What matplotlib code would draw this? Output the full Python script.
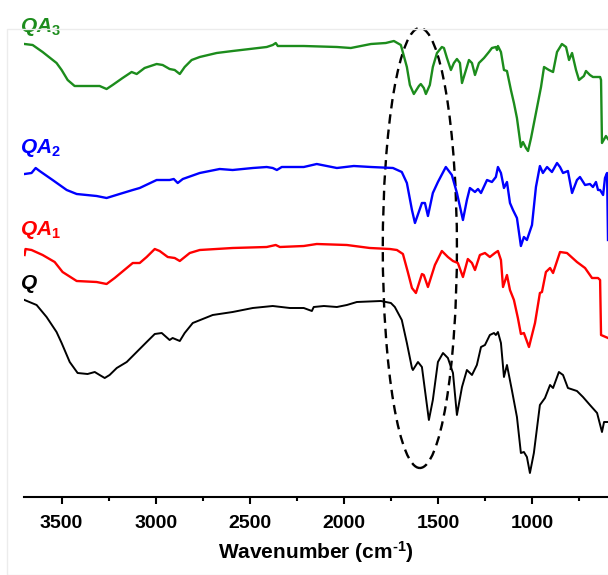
import matplotlib
matplotlib.use("Agg")
import matplotlib.pyplot as plt
from matplotlib.patches import Ellipse, Rectangle
from matplotlib.ticker import MultipleLocator

plt.rcParams['font.family'] = ['Liberation Sans', 'DejaVu Sans']
plt.rcParams['mathtext.fontset'] = 'custom'
plt.rcParams['mathtext.it'] = 'Liberation Sans:italic:bold'
plt.rcParams['mathtext.bf'] = 'Liberation Sans:bold'
plt.rcParams['mathtext.rm'] = 'Liberation Sans:bold'

# ---- data (wavenumber cm-1, transmittance a.u., stacked) ----
qa3_w = [3697, 3654, 3601, 3527, 3500, 3468, 3431, 3367, 3298, 3261, 3229, 3176, 3128, 3101, 3059,
         2995, 2963, 2926, 2899, 2872, 2846, 2809, 2766, 2676, 2591, 2500, 2410, 2378, 2362, 2351,
         2287, 2213, 2037, 1963, 1856, 1777, 1734, 1697, 1665, 1649, 1628, 1601, 1591, 1575, 1564,
         1543, 1527, 1505, 1479, 1468, 1452, 1431, 1415, 1399, 1383, 1372, 1351, 1335, 1319, 1303,
         1282, 1255, 1229, 1213, 1192, 1186, 1181, 1165, 1149, 1133, 1112, 1096, 1080, 1059, 1048,
         1032, 1021, 1005, 979, 952, 936, 910, 888, 867, 841, 819, 803, 787, 766, 750, 724, 713,
         692, 676, 654, 638, 633, 628, 607, 596]
qa3_t = [456, 455, 448, 437, 430, 420, 414, 414, 414, 411, 415, 422, 428, 426, 432,
         436, 435, 431, 430, 426, 433, 440, 443, 447, 449, 451, 453, 455, 457, 454,
         454, 454, 453, 452, 456, 457, 459, 455, 433, 415, 406, 414, 416, 412, 406,
         415, 433, 447, 453, 452, 442, 430, 437, 441, 437, 417, 430, 440, 437, 425,
         437, 442, 448, 452, 453, 450, 454, 448, 430, 429, 410, 397, 382, 353, 358,
         352, 349, 362, 387, 413, 433, 430, 428, 448, 456, 453, 440, 447, 430, 420, 424, 429,
         425, 423, 423, 423, 420, 357, 364, 361]

qa2_w = [3697, 3660, 3638, 3617, 3548, 3473, 3420, 3314, 3261, 3192, 3122, 3085, 2995, 2926, 2904,
         2883, 2856, 2766, 2660, 2591, 2484, 2410, 2378, 2356, 2330, 2213, 2144, 2037, 1947, 1856,
         1739, 1692, 1665, 1638, 1622, 1585, 1569, 1553, 1527, 1500, 1458, 1426, 1399, 1367, 1346,
         1330, 1303, 1287, 1271, 1239, 1213, 1192, 1181, 1165, 1149, 1133, 1117, 1101, 1080, 1059,
         1043, 1027, 1000, 979, 958, 942, 920, 894, 867, 851, 835, 809, 787, 761, 745, 718, 692,
         676, 660, 649, 638, 622, 612, 601, 596]
qa2_t = [326, 327, 332, 329, 320, 310, 306, 304, 302, 306, 310, 312, 320, 320, 321,
         317, 321, 327, 331, 330, 332, 333, 332, 330, 333, 333, 336, 332, 334, 333,
         332, 328, 317, 290, 277, 297, 297, 284, 307, 318, 333, 325, 307, 280, 300,
         312, 308, 311, 307, 320, 318, 323, 333, 327, 312, 318, 297, 290, 282, 254,
         263, 260, 275, 313, 334, 327, 333, 328, 337, 333, 327, 329, 307, 320, 323, 315, 316,
         313, 318, 310, 310, 305, 322, 327, 260]

qa1_w = [3697, 3692, 3660, 3601, 3537, 3495, 3420, 3314, 3261, 3218, 3154, 3122, 3085, 3048, 3005,
         2979, 2936, 2899, 2872, 2819, 2766, 2591, 2410, 2362, 2340, 2213, 2144, 1984, 1862, 1755,
         1718, 1686, 1660, 1638, 1617, 1585, 1575, 1553, 1516, 1479, 1447, 1420, 1394, 1367, 1341,
         1319, 1303, 1277, 1250, 1224, 1197, 1181, 1165, 1154, 1133, 1117, 1096, 1075, 1059, 1043,
         1016, 984, 958, 947, 926, 904, 888, 851, 814, 761, 718, 681, 649, 638, 633, 596]
qa1_t = [245, 251, 250, 245, 238, 228, 219, 218, 216, 222, 232, 237, 237, 243, 251,
         249, 243, 242, 239, 247, 250, 252, 253, 255, 253, 254, 256, 255, 252, 251,
         250, 246, 228, 212, 207, 226, 225, 213, 235, 249, 243, 239, 237, 223, 241,
         237, 230, 245, 247, 243, 247, 249, 240, 213, 225, 210, 200, 182, 166, 167,
         153, 177, 207, 208, 228, 232, 227, 248, 247, 238, 232, 222, 222, 220, 165, 162]

q_w = [3697, 3633, 3580, 3527, 3500, 3457, 3415, 3362, 3324, 3298, 3271, 3245, 3207, 3154, 3101,
       3048, 3005, 2968, 2926, 2910, 2872, 2846, 2803, 2697, 2591, 2484, 2378, 2287, 2213, 2170,
       2160, 2106, 2037, 1984, 1931, 1803, 1750, 1729, 1692, 1665, 1638, 1633, 1606, 1585, 1569,
       1548, 1527, 1500, 1473, 1447, 1420, 1399, 1372, 1346, 1319, 1293, 1271, 1250, 1224, 1202,
       1192, 1181, 1165, 1149, 1133, 1107, 1080, 1059, 1043, 1027, 1011, 990, 958, 931, 904, 888,
       857, 835, 809, 761, 729, 692, 654, 628, 617, 596]
q_t = [200, 195, 183, 168, 157, 138, 127, 126, 128, 125, 122, 125, 132, 138, 148,
       158, 166, 167, 160, 162, 159, 167, 177, 185, 188, 192, 194, 192, 192, 189,
       193, 194, 193, 195, 198, 199, 197, 193, 180, 157, 132, 130, 138, 133, 110,
       80, 100, 138, 147, 142, 127, 85, 113, 130, 125, 135, 153, 155, 165, 167,
       165, 168, 157, 123, 135, 110, 83, 47, 48, 43, 27, 47, 95, 102, 115, 112,
       128, 125, 112, 109, 103, 95, 87, 68, 78, 78]

series = [("QA", "3", qa3_w, qa3_t, "#1c8c1c", 468),
          ("QA", "2", qa2_w, qa2_t, "#0000ff", 347),
          ("QA", "1", qa1_w, qa1_t, "#ff0000", 265),
          ("Q", "", q_w, q_t, "#000000", 211)]

# highlighted region (ellipse): centre, width, height in data units
ell_center = (1596, 252)
ell_width = 394
ell_height = 440

fig = plt.figure(figsize=(6.08, 5.75), dpi=100)
fig.patches.append(Rectangle((7 / 608, 0), 1.0, 1 - 29 / 575, transform=fig.transFigure,
                             fill=False, edgecolor="#ececec", linewidth=1.0, zorder=0))
ax = fig.add_axes([24 / 608, 78 / 575, 1 - 24 / 608, 497 / 575])
ax.patch.set_alpha(0)

for name, sub, w, t, c, ylab in series:
    lw = 1.4 if c == "#000000" else 1.7
    ax.plot(w, t, color=c, lw=lw, solid_joinstyle="round")
    label = r"$\mathit{%s}$" % name if not sub else r"$\mathit{%s}_{\mathit{%s}}$" % (name, sub)
    ax.text(3723, ylab, label, color=c, fontsize=15, ha="left", va="baseline", clip_on=False)

ax.add_patch(Ellipse(ell_center, ell_width, ell_height, fill=False, edgecolor="black",
                     lw=1.7, linestyle=(0, (4, 2.5))))

ax.set_xlim(3700, 596)
ax.set_ylim(3, 500)
for s in ["top", "right", "left"]:
    ax.spines[s].set_visible(False)
ax.spines["bottom"].set_linewidth(1.5)
ax.set_yticks([])
ax.xaxis.set_major_locator(MultipleLocator(500))
ax.xaxis.set_minor_locator(MultipleLocator(250))
ax.tick_params(axis="x", which="major", direction="out", length=5, width=1.5, labelsize=14, pad=8)
ax.tick_params(axis="x", which="minor", direction="out", length=3, width=1.5)
for lab in ax.get_xticklabels():
    lab.set_fontweight("bold")
ax.set_xlabel(r"Wavenumber (cm$^{\mathbf{\text{-}1}}$)", fontsize=15, fontweight="bold", labelpad=5)

fig.savefig("out.png", dpi=100)
